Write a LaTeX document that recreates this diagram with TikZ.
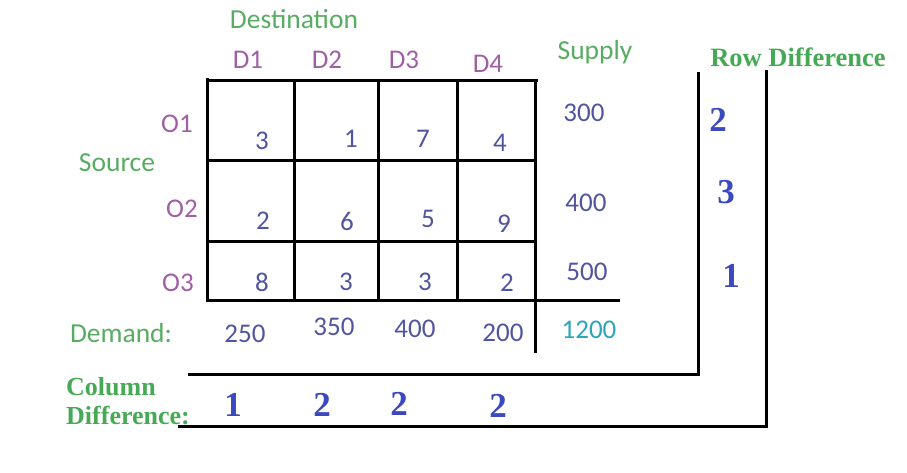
\documentclass[tikz,border=0pt]{standalone}
\usepackage{fontspec}
\setmainfont{Carlito}
\newfontfamily\bserif{Liberation Serif}
\definecolor{lblgreen}{RGB}{88,172,98}
\definecolor{boldgreen}{RGB}{70,170,85}
\definecolor{lblpurple}{RGB}{160,95,165}
\definecolor{numblue}{RGB}{80,85,160}
\definecolor{boldblue}{RGB}{60,72,190}
\definecolor{teal}{RGB}{45,165,185}
\tikzset{
  lbl/.style={font=\fontsize{27.5}{29}\selectfont, text=lblgreen, inner sep=0pt},
  hdr/.style={font=\fontsize{27}{29}\selectfont, text=lblpurple, inner sep=0pt},
  num/.style={font=\fontsize{27}{29}\selectfont, text=numblue, inner sep=0pt},
  blbl/.style={font=\bserif\bfseries\fontsize{26.5}{28}\selectfont, text=boldgreen, inner sep=0pt},
  bnum/.style={font=\bserif\bfseries\fontsize{35}{37}\selectfont, text=boldblue, inner sep=0pt},
  grid/.style={line width=3pt, black},
}
\begin{document}
\begin{tikzpicture}[x=1pt,y=-1pt]
\useasboundingbox (0,0) rectangle (907,472);
% grid
\draw[grid] (207,80) -- (538,80);
\draw[grid] (207,160) -- (537,160);
\draw[grid] (207,241) -- (537,241);
\draw[grid] (207,300) -- (620,300);
\draw[grid] (207,78) -- (207,302);
\draw[grid] (294,80) -- (294,302);
\draw[grid] (378,80) -- (378,300);
\draw[grid] (457,80) -- (457,300);
\draw[grid] (535,80) -- (535,353);
% difference frames
\draw[grid] (188,374) -- (698,374) -- (698,72);
\draw[grid] (178,426) -- (766,426) -- (766,70);
% labels
\node[lbl] (dest) at (294,19) {Destination};
\node[hdr] (d1) at (248,60) {D1};
\node[hdr] (d2) at (327,60) {D2};
\node[hdr] (d3) at (404,60) {D3};
\node[hdr] (d4) at (488,64) {D4};
\node[lbl] (sup) at (595,52) {Supply};
\node[blbl] (rowd) at (798,57) {Row Difference};
\node[hdr] (o1) at (177,124) {O1};
\node[lbl] (src) at (117,163) {Source};
\node[hdr] (o2) at (182,209) {O2};
\node[hdr] (o3) at (178,283) {O3};
% costs
\node[num] (c11) at (262,141) {3};
\node[num] (c12) at (351,139) {1};
\node[num] (c13) at (423,139) {7};
\node[num] (c14) at (500,143) {4};
\node[num] (c21) at (263,221) {2};
\node[num] (c22) at (347,221) {6};
\node[num] (c23) at (428,219) {5};
\node[num] (c24) at (504,224) {9};
\node[num] (c31) at (262,282) {8};
\node[num] (c32) at (346,282) {3};
\node[num] (c33) at (425,282) {3};
\node[num] (c34) at (507,283) {2};
% supply
\node[num] (s1) at (584,113) {300};
\node[num] (s2) at (586,203) {400};
\node[num] (s3) at (587,272) {500};
% demand
\node[lbl] (dem) at (121,333) {Demand:};
\node[num] (dm1) at (245,334) {250};
\node[num] (dm2) at (334,327) {350};
\node[num] (dm3) at (415,329) {400};
\node[num] (dm4) at (503,333) {200};
\node[num, text=teal] (tot) at (589,330) {1200};
% row differences
\node[bnum] (r1) at (718,120) {2};
\node[bnum] (r2) at (726,192) {3};
\node[bnum] (r3) at (731,276) {1};
% column differences
\node[blbl, align=left, anchor=west, font=\bserif\bfseries\fontsize{26}{29}\selectfont] (cold) at (66,401) {Column\\Difference:};
\node[bnum] (k1) at (233,405) {1};
\node[bnum] (k2) at (322,405) {2};
\node[bnum] (k3) at (399,404) {2};
\node[bnum] (k4) at (498,406) {2};
\end{tikzpicture}
\end{document}
